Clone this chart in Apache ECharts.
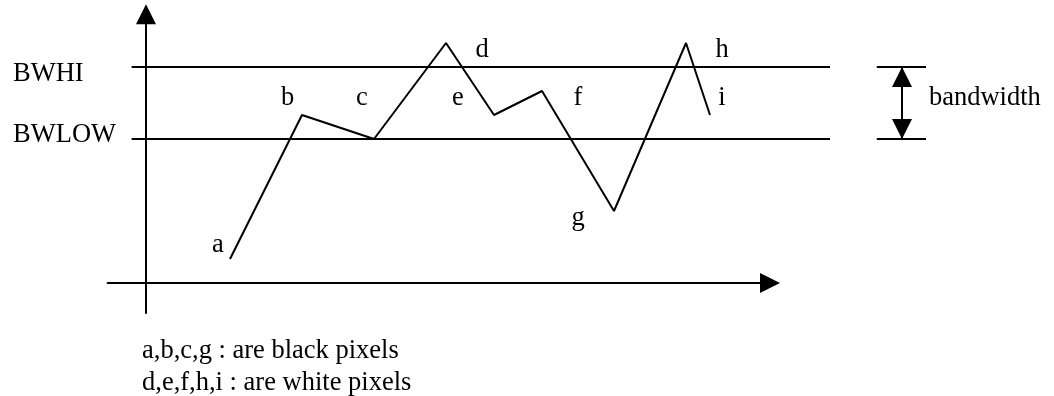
<!DOCTYPE html>
<html>
<head>
<meta charset="utf-8">
<script src="https://cdn.jsdelivr.net/npm/echarts@6/dist/echarts.min.js"></script>
<style>
  html, body { margin: 0; padding: 0; background: #fff; }
  #chart { width: 1054px; height: 396px; }
</style>
</head>
<body>
<div id="chart"></div>
<script>
// pixel samples along the trace (x = time step, y = grey level, arbitrary units)
const pointNames = ["a", "b", "c", "d", "e", "f", "g", "h", "i"];
const sampleX = [3.5, 6.5, 9.5, 12.5, 14.5, 16.5, 19.5, 22.5, 23.5];
const sampleY = [1, 7, 6, 10, 7, 8, 3, 10, 7];
// where each letter sits
const labelX = [3, 5.9, 9, 14, 13, 18, 18, 24, 24];
const labelY = [1.6, 7.7, 7.7, 9.7, 7.7, 7.7, 2.7, 9.7, 7.7];

// threshold band
const bandNames = ["BWHI", "BWLOW"];
const bandLevels = [9, 6];
const bandSpan = [-0.6, 28.5];
const bandNameX = -5.54;
const bandNameY = [8.71, 6.17];

// "bandwidth" marker on the right
const markerTicks = [30.45, 32.5];
const markerX = 31.5;
const markerText = "bandwidth";
const markerTextPos = [32.62, 7.7];

const noteLines = ["a,b,c,g : are black pixels", "d,e,f,h,i : are white pixels"];

// axis extents (the drawn axes) and the full drawing area, same scale
const axisX = [-1.6, 26];
const axisY = [-1.25, 11.2];
const areaX = [-6.08, 37.84];
const areaY = [-4.71, 11.79];

const UNIT = 24;           // px per unit, both directions
const ORIGIN = [146, 283]; // where 0,0 lands
const FONT = "Liberation Serif";
const INK = "#000";

let gridFor = function (xr, yr) {
  return {
    left: ORIGIN[0] + xr[0] * UNIT,
    top: ORIGIN[1] - yr[1] * UNIT,
    width: (xr[1] - xr[0]) * UNIT,
    height: (yr[1] - yr[0]) * UNIT,
    outerBoundsMode: "none",
  };
};

let chart = echarts.init(document.getElementById("chart"), null, { renderer: "canvas" });

let lineSeries = function (name, data, extra) {
  return Object.assign({
    name: name,
    type: "line",
    xAxisIndex: 1,
    yAxisIndex: 1,
    data: data,
    clip: false,
    symbol: "none",
    silent: true,
    lineStyle: { color: INK, width: 2 },
  }, extra || {});
};

let series = [];

// band lines
bandLevels.forEach(function (lvl, i) {
  series.push(lineSeries(bandNames[i], [[bandSpan[0], lvl], [bandSpan[1], lvl]]));
});

// the trace
series.push(lineSeries("trace", sampleX.map(function (x, i) { return [x, sampleY[i]]; })));

// marker ticks
bandLevels.forEach(function (lvl, i) {
  series.push(lineSeries("tick" + i, [[markerTicks[0], lvl], [markerTicks[1], lvl]]));
});

// double arrow
series.push(lineSeries("arrow", [
  { value: [markerX, bandLevels[0]], symbol: "triangle", symbolRotate: 0, symbolOffset: [0, 10] },
  { value: [markerX, bandLevels[1]], symbol: "triangle", symbolRotate: 180, symbolOffset: [0, -10] },
], {
  symbol: "triangle",
  symbolSize: [20, 20],
  showSymbol: true,
  itemStyle: { color: INK, borderWidth: 0 },
}));

// letters
let textSeries = function (name, data, pos) {
  return {
    name: name,
    type: "scatter",
    xAxisIndex: 1,
    yAxisIndex: 1,
    clip: false,
    silent: true,
    symbolSize: 0,
    itemStyle: { color: "transparent", opacity: 1 },
    data: data,
    label: {
      show: true,
      position: pos,
      distance: 0,
      formatter: function (p) { return p.data.text; },
      color: INK,
      opacity: 1,
      textBorderWidth: 0,
      fontFamily: FONT,
      fontSize: 26.5,
    },
  };
};

series.push(textSeries("letters", pointNames.map(function (n, i) {
  return { value: [labelX[i], labelY[i]], text: n };
}), "inside"));

series.push(textSeries("bandNames", bandNames.map(function (n, i) {
  return { value: [bandNameX, bandNameY[i]], text: n };
}), "right"));

series.push(textSeries("marker", [{ value: markerTextPos, text: markerText }], "right"));

let hidden = {
  type: "value",
  gridIndex: 1,
  show: false,
  splitLine: { show: false },
};

let shown = {
  type: "value",
  gridIndex: 0,
  axisTick: { show: false },
  axisLabel: { show: false },
  splitLine: { show: false },
  axisLine: {
    show: true,
    onZero: true,
    symbol: ["none", "triangle"],
    symbolSize: [20, 20],
    lineStyle: { color: INK, width: 2 },
  },
};

chart.setOption({
  animation: false,
  backgroundColor: "#fff",
  title: {
    text: noteLines.join("\n"),
    left: 142,
    top: 335,
    padding: 0,
    textStyle: {
      fontFamily: FONT,
      fontSize: 26.5,
      fontWeight: "normal",
      color: INK,
      lineHeight: 32,
    },
  },
  grid: [gridFor(axisX, axisY), gridFor(areaX, areaY)],
  xAxis: [
    Object.assign({}, shown, { min: axisX[0], max: axisX[1] }),
    Object.assign({}, hidden, { min: areaX[0], max: areaX[1] }),
  ],
  yAxis: [
    Object.assign({}, shown, { min: axisY[0], max: axisY[1] }),
    Object.assign({}, hidden, { min: areaY[0], max: areaY[1] }),
  ],
  series: series,
});
</script>
</body>
</html>
